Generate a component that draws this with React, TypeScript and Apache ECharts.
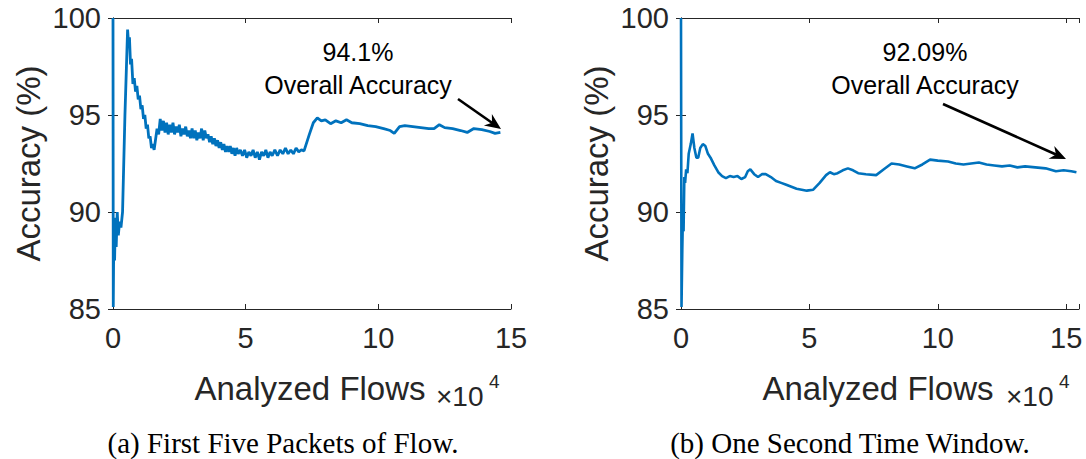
import React, { useEffect, useRef } from "react";
import * as echarts from "echarts";

// x in units of 10^4 analyzed flows, y = cumulative accuracy (%)
const leftX = [
  0, 0.01, 0.03, 0.06, 0.09, 0.12, 0.16, 0.2, 0.25, 0.3, 0.36, 0.45, 0.55, 0.58, 0.62, 0.66, 0.7, 0.75, 0.8, 0.85, 0.9, 0.95,
  1.0, 1.05, 1.1, 1.15, 1.2, 1.25, 1.3, 1.35, 1.4, 1.45, 1.5, 1.55,
  1.6, 1.66, 1.72, 1.78, 1.84, 1.9, 1.96, 2.02, 2.08, 2.14, 2.2, 2.26, 2.32, 2.38, 2.44, 2.5, 2.56, 2.62, 2.68, 2.74,
  2.8, 2.86, 2.92, 2.98, 3.04, 3.1, 3.16, 3.22, 3.28, 3.34, 3.4, 3.46, 3.52, 3.58, 3.64, 3.7, 3.76, 3.82, 3.88, 3.94,
  4.0, 4.06, 4.12, 4.18, 4.24, 4.3, 4.36, 4.42, 4.48, 4.54, 4.6, 4.66, 4.72, 4.8, 4.88, 4.96, 5.04, 5.12, 5.2, 5.28,
  5.36, 5.44, 5.52, 5.6, 5.68, 5.76, 5.84, 5.92, 6.0, 6.1, 6.2, 6.3, 6.4, 6.5, 6.6, 6.7, 6.8, 6.9, 7.0, 7.1, 7.2,
  7.4, 7.55, 7.7, 7.85, 8.0, 8.2, 8.4, 8.6, 8.8, 9.0, 9.3, 9.6, 9.9, 10.2, 10.45, 10.6, 10.8, 11.0, 11.3, 11.6, 11.9,
  12.1, 12.3, 12.5, 12.8, 13.1, 13.35, 13.6, 13.9, 14.2, 14.4, 14.6,
];
const leftY = [
  100, 85.1, 88.9, 87.5, 89.7, 88.2, 90.0, 88.8, 89.5, 89.2, 90.0, 95.0, 99.4, 98.8, 99.0, 97.6, 97.9, 96.6, 96.9, 96.2, 96.5, 95.8,
  96.0, 95.3, 95.5, 94.8, 95.0, 94.3, 94.5, 93.8, 93.9, 93.3, 93.5, 93.2,
  93.7, 94.3, 94.0, 94.8, 94.2, 94.7, 94.1, 94.6, 94.0, 94.5, 94.1, 94.6, 94.0, 94.4, 94.1, 94.5, 93.9, 94.3, 94.0, 94.4,
  93.9, 94.2, 93.8, 94.3, 93.8, 94.2, 93.7, 94.1, 93.8, 94.3, 93.7, 94.2, 93.8, 94.0, 93.6, 93.9, 93.5, 93.8, 93.4, 93.7,
  93.3, 93.6, 93.2, 93.5, 93.1, 93.4, 93.1, 93.4, 93.0, 93.3, 92.9, 93.3, 93.0, 93.2, 92.9, 93.2, 92.8, 93.1, 92.9, 93.2,
  92.8, 93.1, 92.7, 93.1, 92.9, 93.2, 92.8, 93.1, 92.9, 93.2, 92.9, 93.2, 93.0, 93.3, 93.0, 93.2, 93.0, 93.3, 93.1, 93.2, 93.15,
  94.0, 94.6, 94.85, 94.7, 94.75, 94.55, 94.7, 94.6, 94.75, 94.6, 94.55, 94.45, 94.4, 94.3, 94.2, 94.05, 94.4, 94.45, 94.4, 94.35, 94.3,
  94.3, 94.5, 94.35, 94.3, 94.2, 94.1, 94.3, 94.25, 94.15, 94.05, 94.1,
];

const rightX = [
  0, 0.02, 0.05, 0.08, 0.1, 0.13, 0.16, 0.2, 0.25, 0.3, 0.38, 0.45, 0.52, 0.6, 0.67, 0.75, 0.85, 0.95, 1.05, 1.15, 1.3, 1.45,
  1.6, 1.75, 1.9, 2.05, 2.2, 2.35, 2.5, 2.6, 2.7, 2.85, 3.0, 3.15, 3.3, 3.5, 3.7, 3.9, 4.1, 4.3, 4.5, 4.7, 4.9, 5.15,
  5.4, 5.65, 5.8, 5.95, 6.1, 6.3, 6.5, 6.7, 6.9, 7.2, 7.6, 7.9, 8.2, 8.5, 8.8, 9.1, 9.4, 9.7, 10.0, 10.4, 10.7, 11.0,
  11.3, 11.6, 11.9, 12.2, 12.5, 12.8, 13.1, 13.4, 13.8, 14.2, 14.6, 14.9, 15.2, 15.4,
];
const rightY = [
  100, 85.1, 88.0, 90.3, 89.0, 91.8, 91.5, 92.2, 92.0, 93.0, 93.5, 94.05, 93.3, 92.8, 92.8, 93.3, 93.5, 93.4, 93.0, 92.8, 92.4, 92.05,
  91.85, 91.75, 91.85, 91.8, 91.85, 91.7, 91.8, 92.1, 92.2, 91.95, 91.8, 91.95, 91.95, 91.8, 91.6, 91.5, 91.4, 91.3, 91.2, 91.15, 91.1, 91.15,
  91.5, 91.9, 92.05, 91.95, 92.0, 92.15, 92.25, 92.15, 92.0, 91.95, 91.9, 92.2, 92.5, 92.45, 92.35, 92.25, 92.45, 92.7, 92.65, 92.6, 92.5, 92.45,
  92.5, 92.55, 92.45, 92.4, 92.35, 92.4, 92.3, 92.35, 92.3, 92.25, 92.1, 92.15, 92.1, 92.05,
];

const xTicks = [0, 5, 10, 15];
const yTicks = [85, 90, 95, 100];
const xName = "Analyzed Flows";
const yName = "Accuracy (%)";
const annoValues = ["94.1%", "92.09%"];
const annoLabel = "Overall Accuracy";
const captions = ["(a) First Five Packets of Flow.", "(b) One Second Time Window."];

const AX = "#262626";
const LINE = "#0072BD";
const SANS = "'Liberation Sans', Arial, Helvetica, sans-serif";
const SERIF = "'Liberation Serif', 'Times New Roman', serif";

function pairs(xs: number[], ys: number[]) {
  return xs.map((x, i) => [x, ys[i]]);
}

function arrow(x1: number, y1: number, x2: number, y2: number) {
  const dx = x2 - x1, dy = y2 - y1;
  const len = Math.sqrt(dx * dx + dy * dy);
  const ux = dx / len, uy = dy / len;
  const px = -uy, py = ux;
  const hl = 16, hw = 7, notch = 11;
  const bx = x2 - ux * hl, by = y2 - uy * hl;
  const nx = x2 - ux * notch, ny = y2 - uy * notch;
  return [
    {
      type: "line",
      shape: { x1, y1, x2: nx, y2: ny },
      style: { stroke: "#000", lineWidth: 2.6 },
      silent: true,
    },
    {
      type: "polygon",
      shape: { points: [[x2, y2], [bx + px * hw, by + py * hw], [nx, ny], [bx - px * hw, by - py * hw]] },
      style: { fill: "#000" },
      silent: true,
    },
  ];
}

export default function App() {
  const ref = useRef<HTMLDivElement>(null);
  useEffect(() => {
    document.body.style.margin = "0";
    const chart = echarts.init(ref.current!, null, { renderer: "svg" });
    const grids = [
      { left: 113, top: 18, width: 398, height: 291 },
      { left: 681, top: 18, width: 398, height: 291 },
    ];
    const xMax = [15, 15.5];
    const xAxes: any[] = [];
    const yAxes: any[] = [];
    grids.forEach((_, g) => {
      xAxes.push({
        type: "value", gridIndex: g, min: 0, max: xMax[g], interval: 5, position: "bottom",
        axisLine: { show: true, lineStyle: { color: AX, width: 1 } },
        axisTick: { show: true, inside: true, length: 5, lineStyle: { color: AX } },
        axisLabel: {
          show: true, color: AX, fontSize: 29, fontFamily: SANS, margin: 14,
          formatter: (v: number) => (xTicks.includes(v) ? String(v) : ""),
        },
        splitLine: { show: false },
      });
      xAxes.push({
        type: "value", gridIndex: g, min: 0, max: xMax[g], interval: 5, position: "top",
        axisLine: { show: true, lineStyle: { color: AX, width: 1 } },
        axisTick: { show: true, inside: true, length: 5, lineStyle: { color: AX } },
        axisLabel: { show: false }, splitLine: { show: false },
      });
      yAxes.push({
        type: "value", gridIndex: g, min: 85, max: 100, interval: 5, position: "left",
        name: yName, nameLocation: "middle", nameGap: 68, nameRotate: 90,
        nameTextStyle: { color: AX, fontSize: 33, fontFamily: SANS },
        axisLine: { show: true, lineStyle: { color: AX, width: 1 } },
        axisTick: { show: true, inside: true, length: 5, lineStyle: { color: AX } },
        axisLabel: {
          show: true, color: AX, fontSize: 29, fontFamily: SANS, margin: 12,
          formatter: (v: number) => (yTicks.includes(v) ? String(v) : ""),
        },
        splitLine: { show: false },
      });
      yAxes.push({
        type: "value", gridIndex: g, min: 85, max: 100, interval: 5, position: "right",
        axisLine: { show: true, lineStyle: { color: AX, width: 1 } },
        axisTick: { show: true, inside: true, length: 5, lineStyle: { color: AX } },
        axisLabel: { show: false }, splitLine: { show: false },
      });
    });

    const txt = (x: number, y: number, text: string, size: number, align: string, font = SANS, color = AX) => ({
      type: "text", x, y, silent: true,
      style: { text, fontSize: size, fontFamily: font, fill: color, align, verticalAlign: "middle" },
    });

    const graphic: any[] = [
      txt(310, 388, xName, 33, "center"),
      txt(436, 396, "×10", 28, "left"),
      txt(489, 381, "4", 19, "left"),
      txt(878, 388, xName, 33, "center"),
      txt(1006, 396, "×10", 28, "left"),
      txt(1059, 381, "4", 19, "left"),
      txt(358, 52, annoValues[0], 25, "center", SANS, "#000"),
      txt(358, 85, annoLabel, 25, "center", SANS, "#000"),
      txt(925, 52, annoValues[1], 25, "center", SANS, "#000"),
      txt(925, 85, annoLabel, 25, "center", SANS, "#000"),
      txt(283, 443, captions[0], 29, "center", SERIF, "#000"),
      txt(850, 443, captions[1], 29, "center", SERIF, "#000"),
      ...arrow(458, 99, 501, 129),
      ...arrow(943, 104, 1066, 159),
    ];

    chart.setOption({
      animation: false,
      grid: grids,
      xAxis: xAxes,
      yAxis: yAxes,
      series: [
        {
          type: "line", xAxisIndex: 0, yAxisIndex: 0, data: pairs(leftX, leftY),
          showSymbol: false, lineStyle: { color: LINE, width: 2.8 }, z: 3,
        },
        {
          type: "line", xAxisIndex: 2, yAxisIndex: 2, data: pairs(rightX, rightY),
          showSymbol: false, lineStyle: { color: LINE, width: 2.6 }, z: 3,
        },
      ],
      graphic,
    });
    return () => chart.dispose();
  }, []);
  return <div ref={ref} style={{ width: 1086, height: 459 }} />;
}
